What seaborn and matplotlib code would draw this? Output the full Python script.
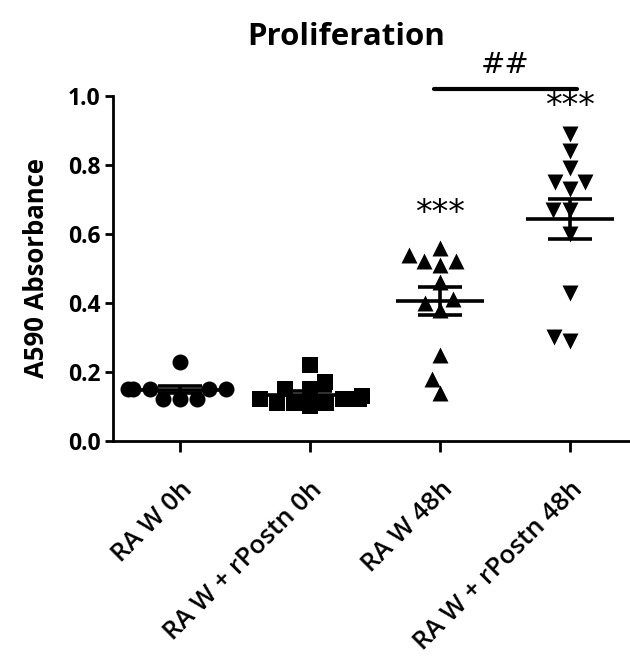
import numpy as np
import pandas as pd
import matplotlib
matplotlib.use("Agg")
import matplotlib.pyplot as plt
import seaborn as sns

# Absorbance readings per group
groups = ["RA W 0h", "RA W + rPostn 0h", "RA W 48h", "RA W + rPostn 48h"]
raw_0h = [0.23, 0.15, 0.15, 0.15, 0.15, 0.15, 0.12, 0.12, 0.12]
rpostn_0h = [0.22, 0.17, 0.15, 0.15, 0.13, 0.12, 0.12, 0.11, 0.11, 0.11, 0.10, 0.12]
raw_48h = [0.56, 0.54, 0.52, 0.52, 0.51, 0.46, 0.41, 0.40, 0.38, 0.25, 0.18, 0.14]
rpostn_48h = [0.89, 0.84, 0.79, 0.75, 0.75, 0.73, 0.67, 0.67, 0.60, 0.43, 0.30, 0.29]
markers = ["o", "s", "^", "v"]
yticks = [0.0, 0.2, 0.4, 0.6, 0.8, 1.0]

series = [raw_0h, rpostn_0h, raw_48h, rpostn_48h]
df = pd.DataFrame({
    "group": np.repeat(groups, [len(s) for s in series]),
    "value": np.concatenate(series),
})

sns.set_style("ticks")
plt.rcParams["font.family"] = ["Open Sans", "DejaVu Sans"]
for key in ["text.color", "axes.labelcolor", "xtick.color", "ytick.color", "axes.edgecolor"]:
    plt.rcParams[key] = "black"

fig = plt.figure(figsize=(6.3, 6.61), dpi=100)
ax = fig.add_axes([0.179, 0.333, 0.821, 0.522])

for g, m in zip(groups, markers):
    sub = df[df["group"] == g]
    sns.swarmplot(data=sub, x="group", y="value", order=groups, marker=m,
                  color="black", size=11.5, linewidth=0, ax=ax)

# mean line with SEM whiskers
for i, s in enumerate(series):
    arr = np.asarray(s)
    mean = arr.mean()
    sem = arr.std(ddof=1) / np.sqrt(len(arr))
    ax.hlines(mean, i - 0.34, i + 0.34, color="black", lw=2.6, zorder=5)
    ax.vlines(i, mean - sem, mean + sem, color="black", lw=2.6, zorder=5)
    ax.hlines([mean - sem, mean + sem], i - 0.17, i + 0.17, color="black", lw=2.6, zorder=5)

ax.set_xlim(-0.515, 3.46)
ax.set_ylim(0, 1.0)
ax.set_yticks(yticks)
ax.set_yticklabels([f"{t:.1f}" for t in yticks], fontsize=16.5, fontweight="bold")
ax.set_xticks(range(len(groups)))
ax.set_xticklabels(groups, rotation=45, ha="right", rotation_mode="anchor",
                   fontsize=18.5, fontweight="semibold")
ax.tick_params(axis="x", length=8, width=2, pad=18)
ax.tick_params(axis="y", length=6, width=2, pad=3)
ax.set_xlabel("")
ax.set_ylabel("A590 Absorbance", fontsize=18.5, fontweight="bold", labelpad=13)
for side in ["top", "right"]:
    ax.spines[side].set_visible(False)
for side in ["left", "bottom"]:
    ax.spines[side].set_linewidth(2)

# significance annotations
ax.text(2, 0.658, "***", ha="center", va="center", fontsize=24, family="DejaVu Sans")
ax.text(3, 0.968, "***", ha="center", va="center", fontsize=24, family="DejaVu Sans")
ax.plot([1.954, 3.05], [1.02, 1.02], color="black", lw=3, clip_on=False)
ax.text(2.5, 1.09, "##", ha="center", va="center", fontsize=21, family="DejaVu Sans")

fig.suptitle("Proliferation", x=0.549, y=0.944, va="center", fontsize=22.5, fontweight="bold")

fig.savefig("out.png", dpi=100)
